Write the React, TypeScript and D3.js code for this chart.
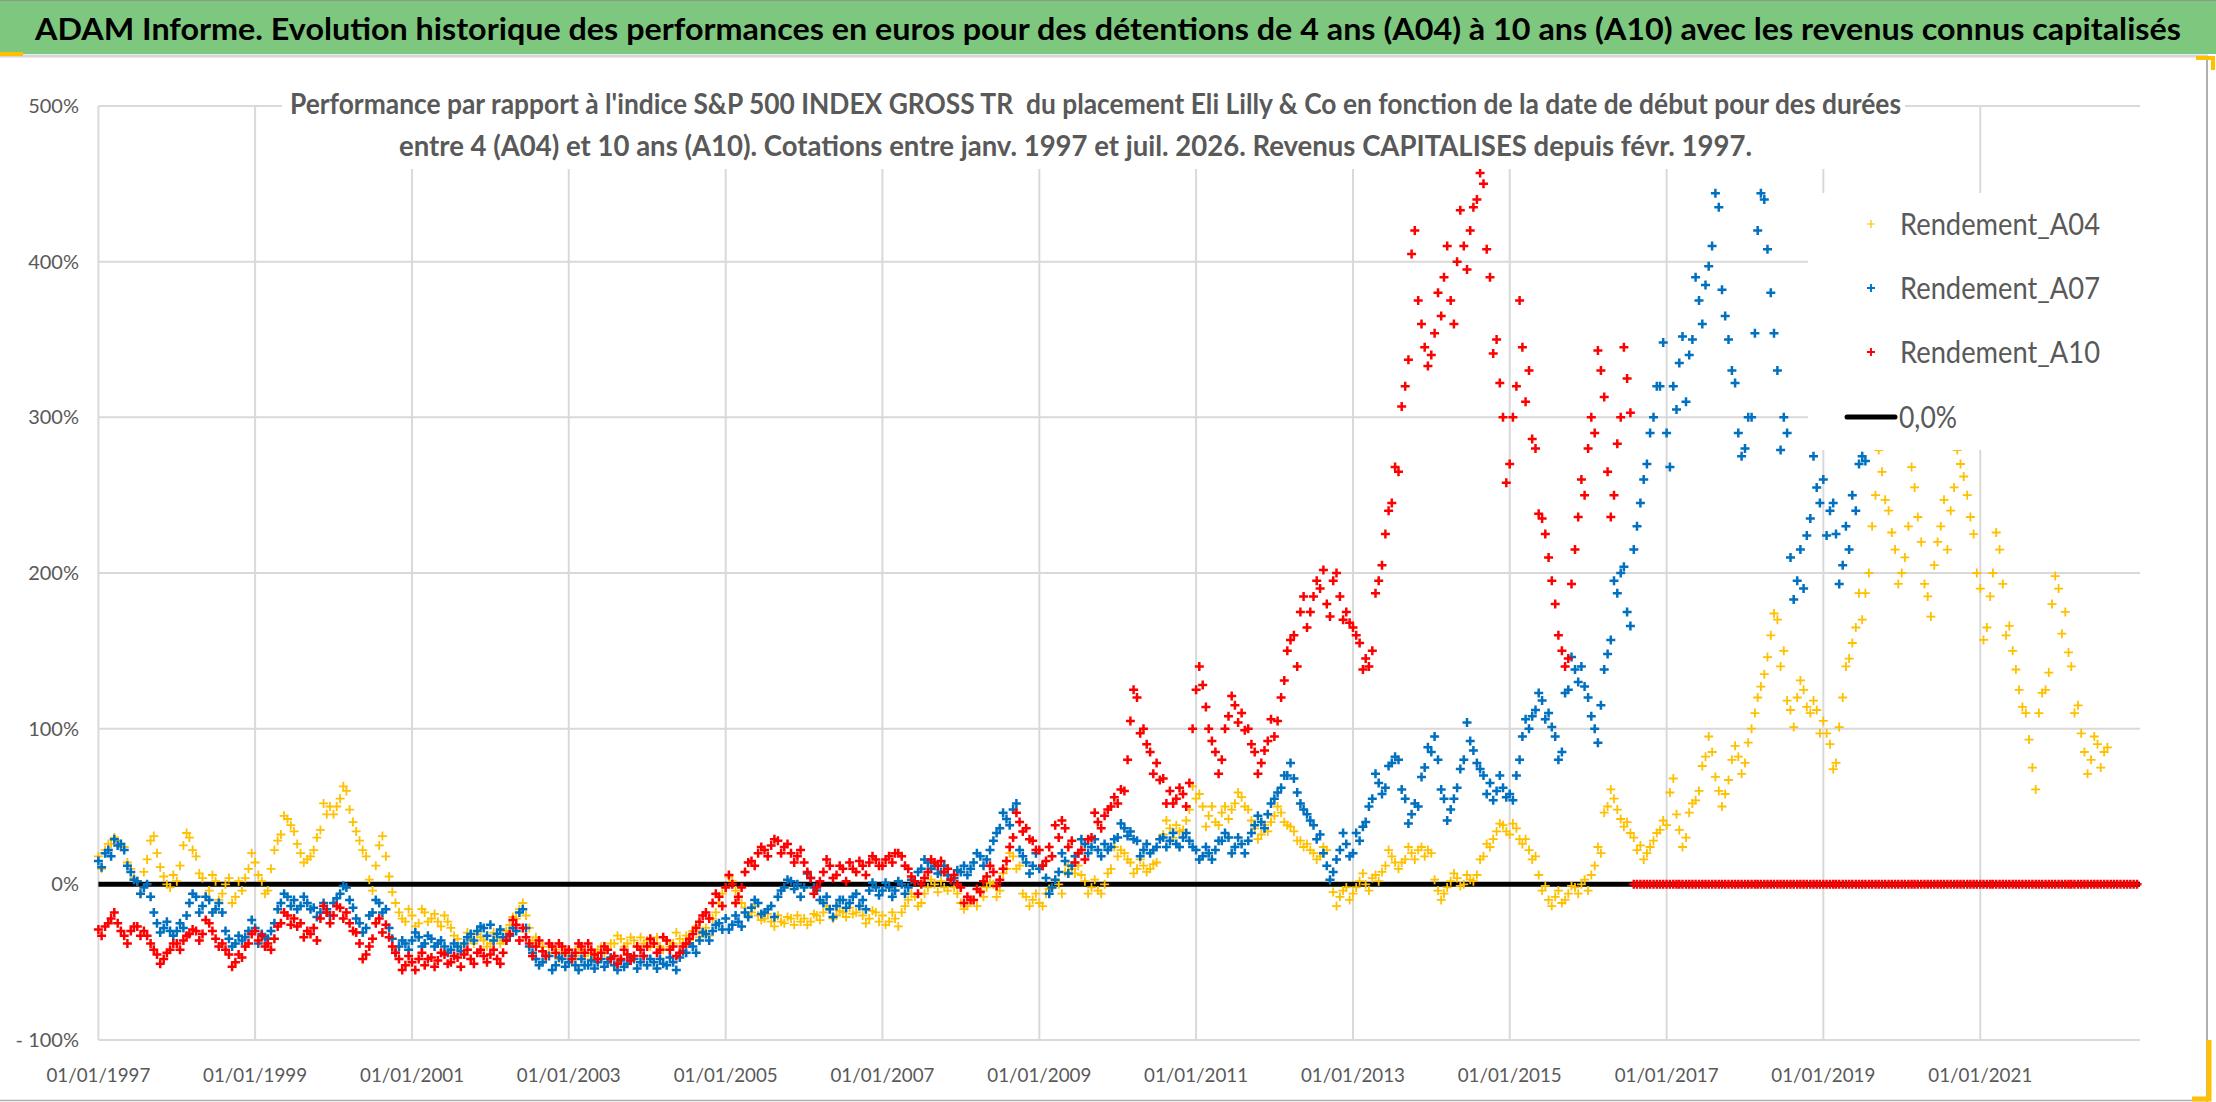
import * as d3 from 'd3';
import * as React from 'react';

// Two readings per month: on the 1st and around the 16th. First month is January 1997 (values in %)
const seriesStart = '01/01/1997';
const midMonthDay = 16;
const axisEndDate = '15/01/2023';

const rendementA04: number[] = [
    18, 22, 26, 28, 24, 10, 2, 8, 28, 20, 5, -2,
    2, 25, 30, 18, 4, -4, 2, -6, 4, -8, -4, 10,
    14, 2, -4, 22, 32, 42, 34, 20, 16, 22, 35, 45,
    45, 55, 60, 40, 28, 18, -4, 25, 18, -5, -18, -24,
    -20, -25, -18, -22, -24, -20, -28, -35, -38, -35, -32, -36,
    -38, -34, -36, -26, -22, -12, -28, -34, -40, -44, -42, -45,
    -44, -46, -42, -44, -45, -40, -42, -38, -35, -38, -36, -34,
    -36, -38, -40, -36, -38, -35, -33, -30, -34, -28, -22, -12,
    -2, 2, -8, -15, -18, -20, -22, -24, -20, -25, -22, -20,
    -22, -24, -20, -18, -16, -20, -18, -15, -18, -20, -22, -18,
    -20, -24, -22, -18, -10, -8, -12, -2, 0, 2, -4, -2,
    -12, -14, -10, -4, -2, 0, -4, 10, 18, 12, -8, -10,
    -12, -6, -2, 0, 8, 10, 12, 2, -2, -4, 0, 10,
    18, 20, 14, 10, 12, 10, 14, 32, 36, 38, 35, 48,
    55, 50, 44, 40, 46, 42, 52, 56, 48, 36, 32, 34,
    44, 46, 38, 34, 28, 26, 20, 18, 22, -5, -8, -2,
    -6, 2, 0, 4, 2, 12, 18, 10, 16, 20, 22, 18,
    20, -4, -6, 2, 4, 0, 3, 6, 18, 24, 34, 38,
    32, 36, 26, 22, 18, -4, -10, -8, -12, -6, -2, 0,
    -4, 12, 20, 50, 55, 42, 40, 30, 25, 20, 28, 35,
    38, 68, 35, 30, 52, 60, 82, 85, 60, 58, 80, 82,
    78, 100, 120, 135, 160, 170, 150, 112, 120, 125, 110, 112,
    105, 90, 78, 120, 145, 165, 170, 200, 250, 265, 240, 215,
    200, 230, 255, 220, 185, 205, 230, 215, 255, 270, 250, 225,
    190, 165, 200, 215, 160, 150, 125, 110, 75, 110, 125, 180,
    190, 175, 140, 115, 85, 80, 90, 85,
];
const rendementA04Mid: number[] = [
    10, 26, 30, 24, 14, 4, -6, 16, 31, 11, 0, 6,
    12, 33, 22, 7, -8, 6, -10, 0, -12, 2, 4, 20,
    6, -6, 10, 28, 44, 38, 26, 14, 18, 30, 52, 50,
    50, 63, 48, 34, 22, 3, 12, 31, 5, -12, -22, -16,
    -27, -16, -24, -19, -27, -24, -33, -40, -31, -38, -34, -40,
    -31, -38, -30, -21, -16, -20, -36, -38, -46, -40, -48, -42,
    -48, -40, -46, -48, -42, -44, -38, -33, -40, -34, -40, -38,
    -40, -34, -42, -40, -31, -38, -36, -27, -30, -33, -18, -6,
    5, -4, -12, -20, -14, -23, -19, -27, -24, -21, -26, -24,
    -26, -19, -23, -14, -22, -17, -21, -19, -14, -25, -17, -24,
    -26, -18, -27, -14, -6, -14, -6, 3, -5, -2, 3, -6,
    -16, -10, -14, -8, 1, -8, 7, 20, 10, -6, -14, -6,
    -14, -3, 3, -6, 12, 7, 6, -6, 3, -6, 7, 24,
    22, 16, 7, 16, 8, 13, 29, 41, 30, 34, 41, 63,
    58, 37, 50, 38, 50, 48, 59, 50, 41, 29, 38, 40,
    50, 40, 37, 28, 24, 22, 16, 24, 3, -14, -4, -10,
    -2, 7, -4, 6, 8, 22, 14, 14, 24, 16, 24, 22,
    3, -10, -2, 7, -1, 6, 2, 16, 26, 29, 39, 34,
    39, 29, 29, 16, 6, -1, -14, -4, -10, -1, -6, 3,
    6, 24, 46, 61, 48, 37, 33, 22, 16, 24, 33, 41,
    59, 45, 24, 46, 54, 76, 95, 69, 50, 67, 89, 71,
    91, 110, 127, 146, 174, 140, 118, 101, 131, 114, 118, 97,
    97, 74, 101, 140, 155, 187, 187, 230, 279, 247, 226, 193,
    210, 268, 236, 193, 172, 220, 247, 240, 279, 262, 236, 200,
    157, 185, 226, 193, 166, 138, 114, 93, 61, 123, 136, 198,
    161, 149, 110, 97, 71, 95, 75, 88,
];

const rendementA07: number[] = [
    15, 20, 18, 25, 22, 8, 2, -2, -8, -25, -28, -30,
    -30, -28, -12, -8, -14, -10, -16, -18, -35, -38, -36, -30,
    -28, -32, -35, -25, -12, -8, -10, -14, -12, -15, -18, -16,
    -12, -6, -2, -15, -25, -28, -18, -12, -16, -35, -40, -38,
    -36, -34, -38, -35, -38, -40, -42, -40, -38, -32, -30, -28,
    -26, -32, -34, -33, -30, -16, -40, -48, -50, -46, -52, -48,
    -50, -52, -48, -52, -54, -48, -50, -52, -49, -51, -48, -50,
    -52, -50, -48, -52, -50, -47, -44, -40, -36, -32, -30, -25,
    -22, -26, -24, -18, -15, -12, -18, -14, -8, -2, 2, 0,
    -2, 4, -4, -12, -16, -14, -10, -12, -6, -10, -4, -2,
    -4, -2, -4, 0, -2, 2, 10, 14, 12, 8, 6, 4,
    8, 6, 14, 18, 16, 28, 36, 42, 48, 22, 14, 12,
    10, 4, -2, 8, 15, 12, 20, 26, 24, 22, 26, 24,
    30, 36, 34, 28, 22, 20, 24, 30, 28, 26, 30, 28,
    22, 18, 20, 22, 28, 30, 24, 26, 28, 38, 40, 45,
    55, 62, 70, 68, 52, 45, 38, 32, 12, 8, 22, 26,
    20, 28, 40, 55, 65, 62, 78, 80, 55, 45, 50, 75,
    85, 80, 55, 48, 62, 80, 92, 78, 70, 65, 60, 62,
    58, 70, 95, 100, 112, 118, 110, 95, 85, 125, 138, 140,
    120, 100, 115, 148, 195, 200, 175, 215, 245, 270, 300, 320,
    290, 320, 335, 310, 350, 375, 385, 410, 435, 365, 330, 290,
    280, 300, 420, 440, 380, 330, 300, 210, 195, 190, 235, 255,
    260, 240, 225, 205, 215, 240, 275,
];
const rendementA07Mid: number[] = [
    11, 22, 29, 26, 12, 3, -6, 0, -18, -31, -24, -33,
    -25, -20, -6, -18, -8, -18, -12, -30, -40, -33, -34, -23,
    -38, -34, -30, -16, -6, -14, -16, -8, -16, -21, -12, -20,
    -9, -1, -10, -22, -31, -20, -10, -18, -28, -44, -36, -42,
    -31, -40, -33, -40, -36, -44, -38, -43, -34, -36, -27, -33,
    -36, -29, -36, -28, -18, -28, -44, -52, -46, -55, -47, -53,
    -46, -55, -52, -49, -50, -53, -47, -55, -53, -47, -54, -46,
    -48, -54, -51, -47, -55, -43, -38, -44, -31, -36, -26, -29,
    -29, -20, -27, -21, -10, -19, -16, -21, -4, 3, -3, -8,
    7, -2, -10, -8, -21, -10, -15, -8, -14, -16, 1, -7,
    1, -8, 2, -6, 3, 8, 16, 10, 7, 12, 3, 9,
    12, 10, 20, 12, 22, 33, 46, 38, 52, 18, 7, 20,
    12, -6, 3, 20, 7, 18, 29, 20, 29, 18, 22, 29,
    39, 31, 29, 18, 26, 22, 29, 24, 33, 24, 33, 24,
    16, 24, 16, 28, 33, 20, 30, 20, 33, 44, 36, 52,
    59, 70, 78, 59, 48, 41, 29, 20, 3, 16, 33, 18,
    33, 37, 50, 71, 58, 76, 82, 61, 39, 52, 69, 88,
    95, 61, 41, 55, 74, 104, 86, 74, 58, 54, 70, 56,
    54, 80, 106, 108, 123, 106, 101, 80, 123, 146, 130, 127,
    108, 91, 138, 157, 187, 204, 166, 230, 260, 290, 320, 348,
    268, 305, 352, 340, 390, 360, 397, 444, 382, 350, 322, 275,
    300, 354, 444, 408, 354, 279, 290, 183, 215, 224, 275, 245,
    224, 245, 193, 230, 250, 270, 272,
];

const rendementA10: number[] = [
    -29, -27, -22, -25, -33, -30, -27, -30, -38, -45, -48, -42,
    -38, -36, -32, -30, -32, -25, -35, -38, -45, -50, -47, -38,
    -30, -33, -38, -35, -25, -20, -22, -25, -30, -28, -22, -18,
    -20, -15, -18, -30, -38, -45, -35, -22, -26, -40, -48, -52,
    -50, -48, -52, -47, -49, -45, -50, -47, -45, -48, -44, -46,
    -45, -48, -44, -32, -26, -28, -38, -40, -43, -38, -44, -40,
    -42, -44, -40, -38, -45, -44, -42, -46, -48, -45, -46, -42,
    -40, -38, -42, -36, -40, -44, -38, -32, -24, -18, -12, -8,
    -2, 0, -8, 8, 15, 20, 22, 25, 28, 24, 20, 18,
    14, 4, -2, 8, 12, 6, 10, 14, 8, 12, 14, 16,
    12, 18, 20, 18, 10, 2, 0, 8, 14, 15, 10, 6,
    -2, -8, -10, -5, 5, 8, 3, 15, 30, 40, 36, 28,
    22, 15, 18, 30, 36, 28, 20, 16, 30, 40, 44, 50,
    52, 60, 105, 120, 100, 85, 78, 68, 60, 55, 58, 65,
    125, 128, 100, 85, 80, 108, 115, 110, 100, 85, 78, 92,
    95, 120, 150, 160, 175, 165, 185, 190, 180, 195, 185, 175,
    165, 155, 145, 150, 195, 225, 245, 265, 320, 405, 375, 345,
    340, 380, 390, 375, 400, 410, 420, 440, 450, 390, 350, 300,
    270, 320, 345, 330, 280, 235, 210, 180, 150, 145, 215, 260,
    280, 290, 330, 265, 250, 300, 325,
    // no 10-year result yet: plotted at 0
    0, 0, 0, 0, 0,
    0, 0, 0, 0, 0, 0, 0, 0, 0, 0, 0, 0,
    0, 0, 0, 0, 0, 0, 0, 0, 0, 0, 0, 0,
    0, 0, 0, 0, 0, 0, 0, 0, 0, 0, 0, 0,
    0, 0, 0, 0, 0, 0, 0, 0, 0, 0, 0, 0,
    0, 0, 0, 0, 0, 0, 0, 0, 0, 0, 0, 0,
    0, 0, 0, 0, 0, 0, 0, 0, 0, 0, 0, 0,
    0,
];
const rendementA10Mid: number[] = [
    -33, -25, -18, -30, -38, -27, -33, -33, -42, -51, -44, -38,
    -42, -33, -29, -36, -23, -30, -40, -42, -53, -45, -40, -32,
    -36, -40, -42, -27, -18, -26, -27, -34, -32, -36, -14, -25,
    -14, -22, -25, -31, -48, -40, -25, -31, -34, -44, -55, -46,
    -55, -44, -48, -53, -44, -51, -46, -53, -42, -51, -42, -50,
    -42, -51, -36, -23, -36, -34, -46, -36, -46, -40, -38, -44,
    -48, -38, -44, -42, -48, -40, -48, -51, -42, -49, -40, -46,
    -35, -44, -34, -42, -46, -40, -35, -28, -20, -22, -6, -14,
    6, -12, -2, 14, 12, 24, 18, 29, 20, 26, 14, 22,
    8, -6, 2, 16, 4, 12, 2, 10, 15, 6, 18, 12,
    16, 14, 20, 12, 5, -6, 4, 16, 12, 8, 3, 0,
    -12, -10, -3, 2, 12, -1, 10, 24, 46, 34, 29, 22,
    12, 24, 38, 41, 24, 14, 22, 29, 46, 36, 48, 56,
    61, 80, 125, 97, 90, 71, 67, 52, 52, 62, 50, 100,
    140, 114, 92, 71, 100, 121, 104, 99, 90, 71, 86, 106,
    105, 131, 157, 140, 185, 175, 195, 202, 172, 200, 170, 168,
    160, 138, 140, 187, 205, 240, 268, 307, 337, 420, 360, 333,
    354, 365, 410, 360, 433, 395, 435, 457, 408, 341, 322, 258,
    300, 375, 310, 286, 238, 225, 195, 160, 140, 193, 236, 250,
    300, 343, 313, 236, 283, 345, 303,
    0, 0, 0, 0, 0,
    0, 0, 0, 0, 0, 0, 0, 0, 0, 0, 0, 0,
    0, 0, 0, 0, 0, 0, 0, 0, 0, 0, 0, 0,
    0, 0, 0, 0, 0, 0, 0, 0, 0, 0, 0, 0,
    0, 0, 0, 0, 0, 0, 0, 0, 0, 0, 0, 0,
    0, 0, 0, 0, 0, 0, 0, 0, 0, 0, 0, 0,
    0, 0, 0, 0, 0, 0, 0, 0, 0, 0, 0, 0,
];

const yTickValues = [-100, 0, 100, 200, 300, 400, 500];
const xTickLabels = [
    '01/01/1997', '01/01/1999', '01/01/2001', '01/01/2003', '01/01/2005', '01/01/2007',
    '01/01/2009', '01/01/2011', '01/01/2013', '01/01/2015', '01/01/2017', '01/01/2019', '01/01/2021',
];

const titleText = 'ADAM Informe. Evolution historique des performances en euros pour des détentions de 4 ans (A04) à 10 ans (A10) avec les revenus connus capitalisés';
const subtitleLines = [
    "Performance par rapport à l'indice S&P 500 INDEX GROSS TR\u00a0 du placement Eli Lilly & Co en fonction de la date de début pour des durées",
    'entre 4 (A04) et 10 ans (A10). Cotations entre janv. 1997 et juil. 2026. Revenus CAPITALISES depuis févr. 1997.',
];
const seriesNames = ['Rendement_A04', 'Rendement_A07', 'Rendement_A10'];
const zeroLabel = '0,0%';

const width = 2216;
const height = 1102;
const plot = { left: 98.4, right: 2140, top: 106, bottom: 1040 };
const font = 'Lato, "Open Sans", sans-serif';
const textGrey = '#595959';
const gold = '#FFC000';

const seriesStyles = [
    { color: '#FFC000', stroke: 1.8 },
    { color: '#0070C0', stroke: 2.5 },
    { color: '#FF0000', stroke: 2.5 },
];

const crossPath = (points: Array<[number, number]>, r: number) =>
    points.map(([px, py]) => `M${(px - r).toFixed(1)},${py.toFixed(1)}h${2 * r}M${px.toFixed(1)},${(py - r).toFixed(1)}v${2 * r}`).join('');

export default function App() {
    const parse = d3.timeParse('%d/%m/%Y');
    const start = parse(seriesStart) as Date;
    const end = parse(axisEndDate) as Date;

    const x = d3.scaleTime().domain([start, end]).range([plot.left, plot.right]);
    const y = d3.scaleLinear().domain([-100, 500]).range([plot.bottom, plot.top]);

    const allSeries = [
        [rendementA04, rendementA04Mid],
        [rendementA07, rendementA07Mid],
        [rendementA10, rendementA10Mid],
    ];
    const toPoints = (values: number[], day: number) =>
        values.map((v, i) => {
            const d = d3.timeMonth.offset(start, i);
            d.setDate(day);
            return [x(d), y(v)] as [number, number];
        });

    const yLabel = (v: number) => (v < 0 ? `- ${Math.abs(v)}%` : `${v}%`);
    const xTicks = xTickLabels.map(l => ({ label: l, pos: x(parse(l) as Date) }));

    const legendRows = [224, 288, 352];

    return (
        <svg width={width} height={height} style={{ position: 'absolute', left: 0, top: 0, background: '#fff' }}
            fontFamily={font}>
            <rect x={0} y={0} width={width} height={height} fill="#fff" />

            {/* title band */}
            <rect x={0} y={0} width={width} height={54} fill="#7DC87E" />
            <line x1={0} x2={width} y1={0.5} y2={0.5} stroke="#8a9a8a" strokeWidth={1} />
            <line x1={0} x2={2208} y1={56} y2={56} stroke="#d6d6d6" strokeWidth={3} />
            <rect x={0} y={52} width={23} height={4} fill={gold} />
            <text x={1108} y={40} fontSize={30} fontWeight="bold" fill="#000" textAnchor="middle"
                textLength={2146} lengthAdjust="spacingAndGlyphs">{titleText}</text>

            {/* frame */}
            <line x1={2207} x2={2207} y1={57} y2={height} stroke="#b0b0b0" strokeWidth={2} />
            <line x1={0} x2={2208} y1={1100.5} y2={1100.5} stroke="#b0b0b0" strokeWidth={1.5} />
            <path d="M2196,58H2213V70" fill="none" stroke={gold} strokeWidth={4} />
            <path d="M2209,1040V1099H2192" fill="none" stroke={gold} strokeWidth={5} />

            {/* gridlines */}
            <g stroke="#d9d9d9" strokeWidth={2}>
                {yTickValues.map(v => (
                    <line key={v} x1={plot.left} x2={plot.right} y1={y(v)} y2={y(v)} />
                ))}
                {xTicks.map(t => (
                    <line key={t.label} x1={t.pos} x2={t.pos} y1={plot.top} y2={plot.bottom} />
                ))}
            </g>

            {/* axis labels */}
            <g fill={textGrey} fontSize={20}>
                {yTickValues.map(v => (
                    <text key={v} x={79} y={y(v)} dy="0.35em" textAnchor="end">{yLabel(v)}</text>
                ))}
                {xTicks.map(t => (
                    <text key={t.label} x={t.pos} y={1082} textAnchor="middle"
                        textLength={104} lengthAdjust="spacingAndGlyphs">{t.label}</text>
                ))}
            </g>

            {/* 0,0% reference line */}
            <line x1={plot.left} x2={plot.right} y1={y(0)} y2={y(0)} stroke="#000" strokeWidth={5} />

            {/* scatter series */}
            {allSeries.map(([first, mid], i) => (
                <path key={seriesNames[i]}
                    d={crossPath(toPoints(first, 1), 4.5) + crossPath(toPoints(mid, midMonthDay), 4.5)}
                    fill="none" stroke={seriesStyles[i].color} strokeWidth={seriesStyles[i].stroke} />
            ))}

            {/* subtitle box */}
            <rect x={282} y={84} width={1623} height={85} fill="#fff" />
            <g fill={textGrey} fontSize={29} fontWeight="bold" textAnchor="middle">
                <text x={1095.5} y={114} textLength={1611} lengthAdjust="spacingAndGlyphs">{subtitleLines[0]}</text>
                <text x={1075.5} y={156} textLength={1353} lengthAdjust="spacingAndGlyphs">{subtitleLines[1]}</text>
            </g>

            {/* legend */}
            <rect x={1808} y={193} width={332} height={257} fill="#fff" />
            {seriesNames.map((name, i) => (
                <g key={name}>
                    <path d={crossPath([[1871, legendRows[i]]], 4)} stroke={seriesStyles[i].color}
                        strokeWidth={seriesStyles[i].stroke - 0.6} />
                    <text x={1900} y={legendRows[i] + 11} fontSize={30} fill={textGrey}
                        textLength={200} lengthAdjust="spacingAndGlyphs">{name}</text>
                </g>
            ))}
            <line x1={1847} x2={1895} y1={417} y2={417} stroke="#000" strokeWidth={5} strokeLinecap="round" />
            <text x={1899} y={428} fontSize={30} fill={textGrey} textLength={58}
                lengthAdjust="spacingAndGlyphs">{zeroLabel}</text>
        </svg>
    );
}
